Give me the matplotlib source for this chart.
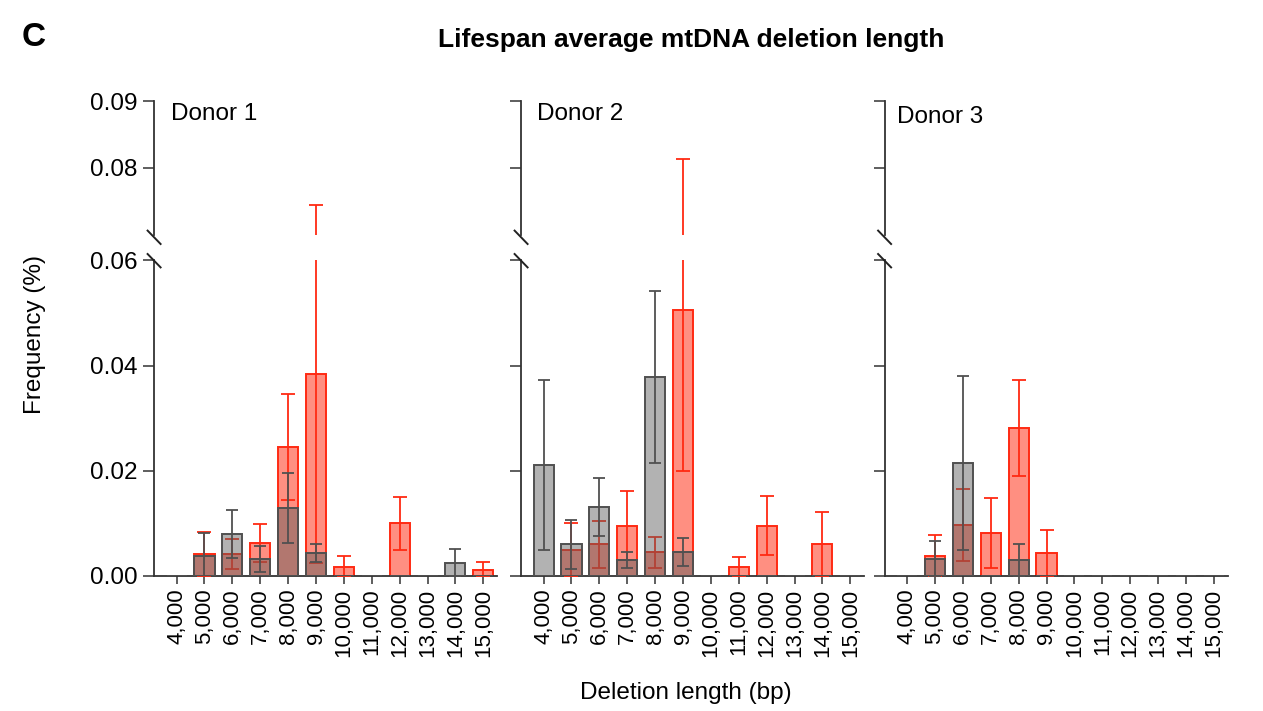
import numpy as np
from matplotlib import pyplot as plt
from matplotlib.lines import Line2D

plt.rcParams['font.family'] = ['Liberation Sans', 'DejaVu Sans']

categories = ['4,000', '5,000', '6,000', '7,000', '8,000', '9,000', '10,000',
              '11,000', '12,000', '13,000', '14,000', '15,000']
donors = ['Donor 1', 'Donor 2', 'Donor 3']

# gray series (mean, sd) per donor
gray_mean_d1 = [0, 0.0038, 0.0080, 0.0032, 0.0129, 0.0043, 0, 0, 0, 0, 0.0025, 0]
gray_sd_d1 = [0, 0.0043, 0.0046, 0.0025, 0.0067, 0.0017, 0, 0, 0, 0, 0.0026, 0]
gray_mean_d2 = [0.0211, 0.0060, 0.0131, 0.0030, 0.0378, 0.0046, 0, 0, 0, 0, 0, 0]
gray_sd_d2 = [0.0162, 0.0047, 0.0055, 0.0015, 0.0164, 0.0027, 0, 0, 0, 0, 0, 0]
gray_mean_d3 = [0, 0.0032, 0.0215, 0, 0.0030, 0, 0, 0, 0, 0, 0, 0]
gray_sd_d3 = [0, 0.0034, 0.0166, 0, 0.0030, 0, 0, 0, 0, 0, 0, 0]

# red series (mean, sd) per donor
red_mean_d1 = [0, 0.0042, 0.0042, 0.0062, 0.0245, 0.0385, 0.0018, 0, 0.0100, 0, 0, 0.0012]
red_sd_d1 = [0, 0.0042, 0.0029, 0.0036, 0.0101, 0.0360, 0.0020, 0, 0.0051, 0, 0, 0.0014]
red_mean_d2 = [0, 0.0050, 0.0060, 0.0096, 0.0045, 0.0506, 0, 0.0017, 0.0096, 0, 0.0060, 0]
red_sd_d2 = [0, 0.0050, 0.0045, 0.0066, 0.0030, 0.0307, 0, 0.0019, 0.0056, 0, 0.0062, 0]
red_mean_d3 = [0, 0.0038, 0.0097, 0.0082, 0.0282, 0.0044, 0, 0, 0, 0, 0, 0]
red_sd_d3 = [0, 0.0040, 0.0069, 0.0066, 0.0091, 0.0044, 0, 0, 0, 0, 0, 0]

gray = [(gray_mean_d1, gray_sd_d1), (gray_mean_d2, gray_sd_d2), (gray_mean_d3, gray_sd_d3)]
red = [(red_mean_d1, red_sd_d1), (red_mean_d2, red_sd_d2), (red_mean_d3, red_sd_d3)]

W, H = 1263, 711
fig = plt.figure(figsize=(W / 100, H / 100), dpi=100)

lefts = [154, 521, 884.5]
pw = 343
low_top, low_bot = 260.5, 576
up_top, up_bot = 101, 235

red_face = (1.0, 0.2, 0.1, 0.55)
red_edge = '#ff2a12'
gray_face = (0.36, 0.36, 0.36, 0.47)
gray_edge = '#505050'
axis_col = '#333333'
fs = 17.5


def draw(ax, i):
    x = np.arange(len(categories))
    rm, rs = np.array(red[i][0]), np.array(red[i][1])
    gm, gs = np.array(gray[i][0]), np.array(gray[i][1])
    ax.bar(x, rm, 0.72, color=red_face, edgecolor=red_edge, linewidth=1.4, zorder=2)
    m = rm > 0
    ax.errorbar(x[m], rm[m], yerr=rs[m], fmt='none', ecolor=red_edge,
                elinewidth=1.3, capsize=5.2, capthick=1.3, zorder=3)
    ax.bar(x, gm, 0.72, color=gray_face, edgecolor=gray_edge, linewidth=1.4, zorder=4)
    m = gm > 0
    ax.errorbar(x[m], gm[m], yerr=gs[m], fmt='none', ecolor=gray_edge,
                elinewidth=1.3, capsize=4.3, capthick=1.3, zorder=5)
    ax.set_xlim(-0.81, 11.49)


for i, left in enumerate(lefts):
    axl = fig.add_axes([left / W, (H - low_bot) / H, pw / W, (low_bot - low_top) / H])
    axu = fig.add_axes([left / W, (H - up_bot) / H, pw / W, (up_bot - up_top) / H])
    draw(axl, i)
    draw(axu, i)
    axl.set_ylim(0, 0.06)
    axu.set_ylim(0.07, 0.09)
    axl.set_yticks([0, 0.02, 0.04, 0.06])
    axu.set_yticks([0.08, 0.09])
    for ax in (axl, axu):
        ax.spines['top'].set_visible(False)
        ax.spines['right'].set_visible(False)
        ax.spines['left'].set_color(axis_col)
        ax.spines['left'].set_linewidth(1.3)
        ax.tick_params(axis='y', length=8, width=1.1, color=axis_col,
                       labelsize=fs, pad=4)
        ax.patch.set_alpha(0)
    axu.spines['bottom'].set_visible(False)
    axu.set_xticks([])
    axl.spines['bottom'].set_color(axis_col)
    axl.spines['bottom'].set_linewidth(1.3)
    axl.set_xticks(np.arange(len(categories)))
    axl.set_xticklabels(categories, rotation=90, fontsize=16)
    axl.tick_params(axis='x', length=6, width=1.1, color=axis_col, pad=3)
    if i == 0:
        axl.set_yticklabels(['0.00', '0.02', '0.04', '0.06'])
        axu.set_yticklabels(['0.08', '0.09'])
    else:
        axl.set_yticklabels([])
        axu.set_yticklabels([])
    axu.text([0.05, 0.047, 0.036][i], [0.9, 0.9, 0.88][i], donors[i],
             transform=axu.transAxes, fontsize=fs, ha='left', va='center')
    # axis break marks
    for cy in (237.3, 260.7):
        fig.add_artist(Line2D([(left - 6.4) / W, (left + 6.6) / W],
                              [(H - cy + 6.7) / H, (H - cy - 6.7) / H],
                              color='#222222', lw=1.4, transform=fig.transFigure))

fig.text(22 / W, 1 - 38 / H, 'C', fontsize=24, fontweight='bold', ha='left', va='center')
fig.text(691 / W, 1 - 40 / H, 'Lifespan average mtDNA deletion length',
         fontsize=19, fontweight='bold', ha='center', va='center')
fig.text(35 / W, 1 - 334 / H, 'Frequency (%)', fontsize=fs, rotation=90,
         ha='center', va='center')
fig.text(686 / W, 1 - 693 / H, 'Deletion length (bp)', fontsize=fs,
         ha='center', va='center')

fig.savefig('out.png', dpi=100)
